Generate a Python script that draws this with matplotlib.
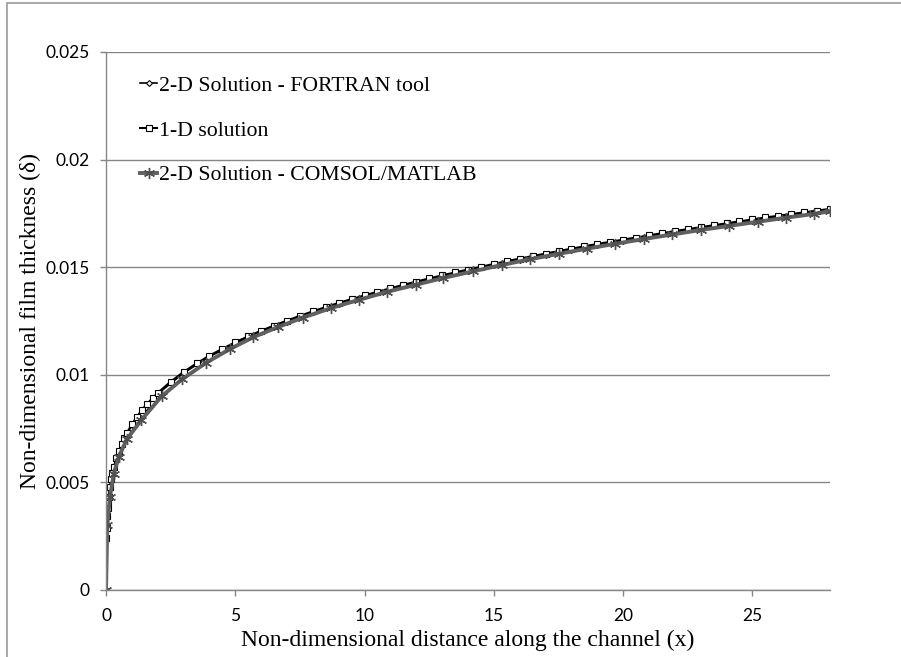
import matplotlib.pyplot as plt
from matplotlib.patches import Rectangle

# 1-D solution
x_1d = [0.01, 0.02, 0.04, 0.06, 0.08, 0.1, 0.15, 0.2, 0.25, 0.3, 0.4, 0.5, 0.6, 0.7, 0.8,
        1.0, 1.2, 1.4, 1.6, 1.8, 2.0, 2.5, 3.0, 3.5, 4.0, 4.5, 5.0, 5.5, 6.0, 6.5, 7.0,
        7.5, 8.0, 8.5, 9.0, 9.5, 10.0, 10.5, 11.0, 11.5, 12.0, 12.5, 13.0, 13.5, 14.0,
        14.5, 15.0, 15.5, 16.0, 16.5, 17.0, 17.5, 18.0, 18.5, 19.0, 19.5, 20.0, 20.5,
        21.0, 21.5, 22.0, 22.5, 23.0, 23.5, 24.0, 24.5, 25.0, 25.5, 26.0, 26.5, 27.0,
        27.5, 28.0]
d_1d = [0.00243, 0.00290, 0.00344, 0.00381, 0.00410, 0.00433, 0.00479, 0.00515, 0.00544,
        0.00570, 0.00612, 0.00647, 0.00678, 0.00704, 0.00728, 0.00770, 0.00806, 0.00838,
        0.00866, 0.00892, 0.00916, 0.00968, 0.01013, 0.01053, 0.01089, 0.01121, 0.01151,
        0.01179, 0.01205, 0.01229, 0.01252, 0.01274, 0.01295, 0.01315, 0.01334, 0.01352,
        0.01369, 0.01386, 0.01402, 0.01418, 0.01433, 0.01448, 0.01462, 0.01476, 0.01489,
        0.01502, 0.01515, 0.01528, 0.01540, 0.01552, 0.01563, 0.01575, 0.01586, 0.01597,
        0.01608, 0.01618, 0.01628, 0.01638, 0.01648, 0.01658, 0.01668, 0.01677, 0.01686,
        0.01695, 0.01704, 0.01713, 0.01722, 0.01731, 0.01739, 0.01747, 0.01755, 0.01763,
        0.01771]

# 2-D FORTRAN tool
x_fortran = [0.0, 0.05, 0.1, 0.2, 0.3, 0.5, 0.75, 1.0, 1.5, 2.0, 3.0, 4.0, 5.0, 6.0, 7.0,
             8.0, 9.0, 10.0, 11.0, 12.0, 13.0, 14.0, 15.0, 16.0, 17.0, 18.0, 19.0, 20.0,
             21.0, 22.0, 23.0, 24.0, 25.0, 26.0, 27.0, 28.0]
d_fortran = [0.0, 0.00358, 0.00428, 0.00510, 0.00565, 0.00642, 0.00711, 0.00765, 0.00848,
             0.00911, 0.01008, 0.01084, 0.01146, 0.01200, 0.01247, 0.01290, 0.01329,
             0.01364, 0.01397, 0.01428, 0.01457, 0.01484, 0.01510, 0.01535, 0.01558,
             0.01581, 0.01603, 0.01623, 0.01643, 0.01663, 0.01681, 0.01699, 0.01717,
             0.01734, 0.01750, 0.01766]

# 2-D COMSOL/MATLAB
x_comsol = [0.0, 0.05, 0.15, 0.3, 0.5, 0.8, 1.37, 2.15, 2.95, 3.86, 4.8, 5.7, 6.65, 7.6,
            8.7, 9.77, 10.85, 11.97, 13.05, 14.2, 15.3, 16.4, 17.5, 18.6, 19.7, 20.8,
            21.9, 23.0, 24.1, 25.2, 26.3, 27.4, 28.0]
d_comsol = [0.0, 0.0030, 0.0043, 0.0054, 0.0062, 0.0070, 0.0079, 0.0090, 0.0098, 0.01055,
            0.01120, 0.01175, 0.01222, 0.01265, 0.01310, 0.01348, 0.01385, 0.01418,
            0.01450, 0.01481, 0.01510, 0.01537, 0.01562, 0.01586, 0.01609, 0.01631,
            0.01652, 0.01673, 0.01692, 0.01711, 0.01730, 0.01748, 0.01760]

x_ticks = [0, 5, 10, 15, 20, 25]
y_ticks = [0, 0.005, 0.01, 0.015, 0.02, 0.025]
y_tick_labels = ['0', '0.005', '0.01', '0.015', '0.02', '0.025']

grey = '#868686'
serif = ['Liberation Serif', 'DejaVu Serif']
asterisk = (6, 2, 0)

fig = plt.figure(figsize=(9.01, 6.57), dpi=100)
fig.patches.append(Rectangle((7 / 901, -0.1), 1.2, 1.1 - 3 / 657, transform=fig.transFigure,
                             fill=False, edgecolor='#9a9a9a', linewidth=1.2))
ax = fig.add_axes([106 / 901, 1 - 590 / 657, (830 - 106) / 901, (590 - 52) / 657])

ax.plot(x_fortran, d_fortran, color='black', linewidth=1.2, marker='D', markersize=3,
        markerfacecolor='white', markeredgecolor='black', markeredgewidth=0.8,
        label='2-D Solution - FORTRAN tool')
ax.plot(x_1d, d_1d, color='black', linewidth=1.5, marker='s', markersize=5,
        markerfacecolor='white', markeredgecolor='black', markeredgewidth=0.8,
        label='1-D solution')
ax.plot(x_comsol, d_comsol, color='#606060', linewidth=2.8, marker=asterisk, markersize=8,
        markeredgecolor='#505050', markeredgewidth=1.0,
        label='2-D Solution - COMSOL/MATLAB')

ax.set_xlim(0, 28)
ax.set_ylim(0, 0.025)
ax.set_xticks(x_ticks)
ax.set_yticks(y_ticks)
ax.set_yticklabels(y_tick_labels)
ax.grid(axis='y', color=grey, linewidth=1)
ax.set_axisbelow(True)
for s in ['top', 'right']:
    ax.spines[s].set_visible(False)
for s in ['left', 'bottom']:
    ax.spines[s].set_color(grey)
    ax.spines[s].set_linewidth(1)
ax.tick_params(axis='both', colors=grey, length=4, width=1, labelsize=12.5,
               labelcolor='black')
ax.tick_params(axis='x', pad=9)
ax.tick_params(axis='y', pad=8)
for lab in ax.get_xticklabels() + ax.get_yticklabels():
    lab.set_family(['Lato', 'DejaVu Sans'])

ax.set_xlabel('Non-dimensional distance along the channel (x)', family=serif, fontsize=17,
              va='center')
ax.xaxis.set_label_coords(0.5, (590 - 640) / 538)
ax.set_ylabel('Non-dimensional film thickness (δ)', family=serif, fontsize=17,
              va='center')
ax.yaxis.set_label_coords((30 - 106) / 724, 0.5)

ax.legend(loc='upper left', bbox_to_anchor=(0.047, 0.956), frameon=False,
          prop={'family': serif, 'size': 15.7}, handlelength=0.8, handletextpad=0.05,
          labelspacing=1.12, borderaxespad=0, borderpad=0)

fig.savefig('out.png', dpi=100)
